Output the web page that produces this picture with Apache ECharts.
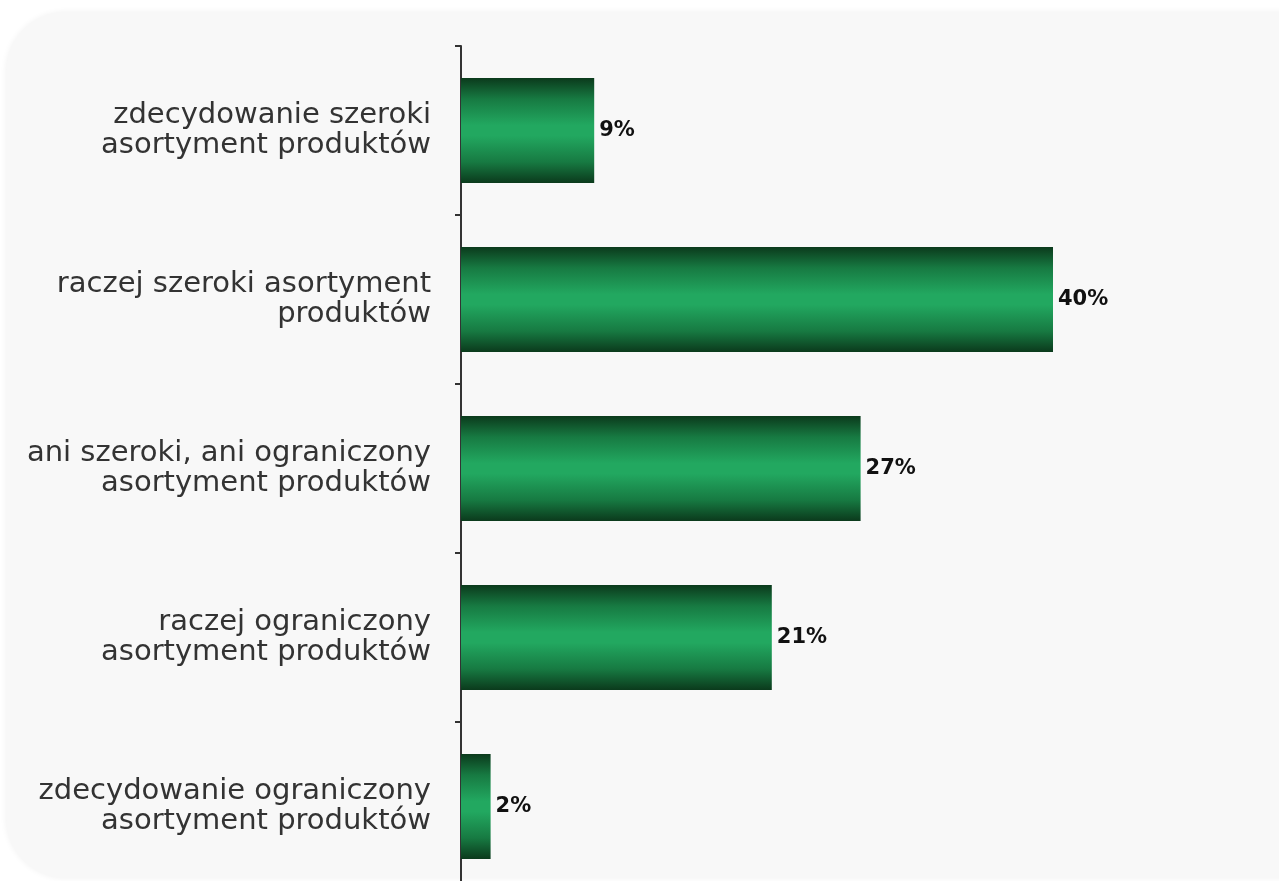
<!DOCTYPE html>
<html><head><meta charset="utf-8">
<script src="https://cdn.jsdelivr.net/npm/echarts@6/dist/echarts.min.js"></script>
<style>html,body{margin:0;padding:0;background:#fff;}#c{width:1279px;height:881px;}</style>
</head><body><div id="c"></div>
<script>
const categories = [
  "zdecydowanie szeroki\nasortyment produktów",
  "raczej szeroki asortyment\nproduktów",
  "ani szeroki, ani ograniczony\nasortyment produktów",
  "raczej ograniczony\nasortyment produktów",
  "zdecydowanie ograniczony\nasortyment produktów"
];
const values = [9, 40, 27, 21, 2];

const chart = echarts.init(document.getElementById('c'));
const barGrad = new echarts.graphic.LinearGradient(0, 0, 0, 1, [
  {offset: 0, color: '#0b3a1c'},
  {offset: 0.2, color: '#177a42'},
  {offset: 0.45, color: '#22a860'},
  {offset: 0.55, color: '#22a860'},
  {offset: 0.8, color: '#177a42'},
  {offset: 1, color: '#0b3a1c'}
]);
chart.setOption({
  animation: false,
  backgroundColor: '#ffffff',
  graphic: [{
    type: 'rect', z: -10, silent: true,
    shape: {x: 6, y: 12, width: 1400, height: 866, r: [60, 0, 0, 60]},
    style: {fill: '#f8f8f8', shadowBlur: 6, shadowColor: 'rgba(0,0,0,0.06)'}
  }],
  grid: {left: 461, top: 46, width: 740, height: 845, outerBoundsMode: 'none', containLabel: false},
  xAxis: {type: 'value', min: 0, max: 50, show: false},
  yAxis: {
    type: 'category', inverse: true, data: categories,
    axisLine: {lineStyle: {color: '#333', width: 2}},
    axisTick: {show: true, length: 6, lineStyle: {color: '#333', width: 2}},
    axisLabel: {
      margin: 30, color: '#333', fontSize: 29, lineHeight: 30,
      fontFamily: 'DejaVu Sans', align: 'right'
    }
  },
  series: [{
    type: 'bar', data: values, barWidth: 105,
    itemStyle: {color: barGrad},
    label: {
      show: true, position: 'right', distance: 5,
      formatter: '{c}%', color: '#111', fontWeight: 900,
      fontSize: 21, fontFamily: 'DejaVu Sans'
    }
  }]
});
</script></body></html>
